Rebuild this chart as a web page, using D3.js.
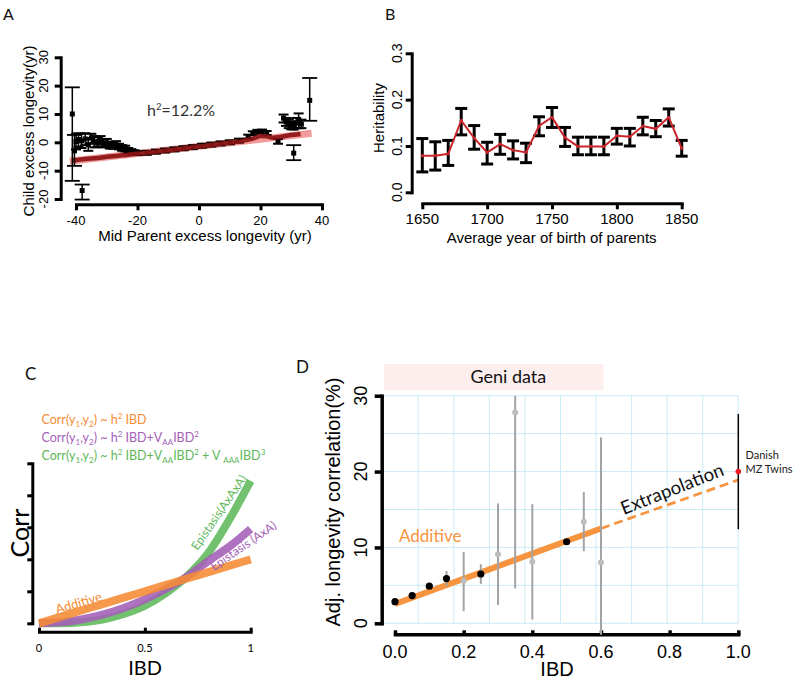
<!DOCTYPE html>
<html><head><meta charset="utf-8">
<script src="https://cdn.jsdelivr.net/npm/d3@7"></script>
<style>body{margin:0;background:#fff} svg{display:block}</style>
</head><body><svg id="c" width="800" height="680"></svg>
<script>
// ---------------- DATA ----------------
// Panel A: mid-parent vs child excess longevity  [x, y, lo, hi]
const aOuterPts = [
  [-41.2, 10, -13.6, 19.4], [-40.5, -3, -8.3, 2.6], [-38.0, -17, -20.2, -14.9],
  [30.8, -3.8, -6.3, -1.0], [36.0, 14.8, 7.6, 22.7]
];
const aClusterPts = [
  [-40.0, 0.3, -2.5, 3.0], [-39.2, 1.0, -1.5, 3.2], [-38.2, 0.5, -2.0, 3.0], [-37.0, 1.2, -1.0, 3.2],
  [-36.0, -0.8, -3.0, 1.5], [-35.0, 1.5, -0.5, 3.0], [-34.0, 0.2, -1.8, 2.2], [-33.0, 0.0, -1.5, 1.8],
  [-32.0, 0.8, -0.8, 2.2], [-31.0, -0.4, -1.8, 1.0], [-30.0, -0.2, -1.5, 1.2], [-29.0, -1.0, -2.2, 0.2],
  [-28.0, -1.2, -2.3, 0.0], [-27.0, -0.8, -2.0, 0.4], [-26.0, -1.5, -2.5, -0.5], [-25.0, -2.0, -3.0, -1.0],
  [-24.0, -2.2, -3.2, -1.2], [-23.0, -2.8, -3.6, -2.0], [-22.0, -3.2, -4.0, -2.4], [-21.0, -3.5, -4.2, -2.8],
  [-20.0, -3.8, -4.5, -3.1], [-17.0, -3.7, -4.4, -3.0], [-14.0, -3.3, -4.0, -2.6], [-11.0, -2.9, -3.6, -2.2],
  [-8.0, -2.5, -3.2, -1.8], [-5.0, -2.1, -2.8, -1.4], [-2.0, -1.7, -2.4, -1.0], [1.0, -1.2, -1.9, -0.5],
  [4.0, -0.8, -1.5, -0.1], [7.0, -0.4, -1.1, 0.3], [10.0, 0.0, -0.7, 0.7], [13.0, 0.6, -0.1, 1.3],
  [16.0, 2.0, 1.3, 2.7], [17.5, 3.2, 2.5, 3.9], [19.0, 3.7, 3.0, 4.4], [20.5, 3.8, 3.1, 4.5],
  [22.0, 3.3, 2.6, 4.0], [25.7, 0.3, -0.5, 1.2],
  [27.5, 8.5, 7.0, 9.8], [28.3, 7.2, 5.8, 8.6], [29.2, 6.5, 5.0, 8.0], [30.0, 6.0, 4.6, 7.4],
  [30.8, 5.6, 4.5, 7.0], [31.6, 6.8, 5.0, 8.6], [32.4, 7.6, 5.0, 10.2], [33.3, 6.4, 5.0, 8.0]
];
const aTrend = [
  [-41, -6.4], [-37, -5.9], [-33, -5.5], [-29, -5.0], [-25, -4.6], [-21, -4.1], [-17, -3.7],
  [-13, -3.2], [-9, -2.7], [-5, -2.2], [-1, -1.6], [3, -1.1], [7, -0.5], [11, 0.0], [15, 0.7],
  [18, 1.5], [20, 2.2], [22, 2.1], [24, 1.6], [26, 1.8], [29, 2.4], [33, 2.9]
];
const aFit = [[-42, -6.7], [36.6, 3.2]];
const aXTicks = [-40, -20, 0, 20, 40];
const aYTicks = [-20, -10, 0, 10, 20, 30];

// Panel B: heritability by parents' birth year
const bYears = [1650,1660,1670,1680,1690,1700,1710,1720,1730,1740,1750,1760,1770,1780,1790,1800,1810,1820,1830,1840,1850];
const bHerit = [0.079,0.079,0.083,0.155,0.117,0.086,0.104,0.091,0.086,0.143,0.162,0.118,0.099,0.099,0.099,0.122,0.120,0.143,0.137,0.162,0.095];
const bLo    = [0.044,0.048,0.058,0.124,0.093,0.061,0.082,0.072,0.064,0.122,0.140,0.099,0.081,0.081,0.081,0.104,0.100,0.124,0.120,0.143,0.078];
const bHi    = [0.116,0.109,0.112,0.181,0.144,0.108,0.125,0.111,0.106,0.163,0.183,0.140,0.119,0.119,0.119,0.138,0.138,0.162,0.155,0.180,0.112];
const bXTicks = [1650, 1700, 1750, 1800, 1850];
const bYTicks = [0.0, 0.1, 0.2, 0.3];

// Panel C: model curves
const cIBD      = [0, 0.1, 0.2, 0.3, 0.4, 0.5, 0.6, 0.7, 0.8, 0.9, 1.0];
const cAdditive = [0, 0.04, 0.08, 0.12, 0.16, 0.20, 0.24, 0.28, 0.32, 0.36, 0.40];
const cAxA      = [0, 0.006, 0.024, 0.054, 0.096, 0.15, 0.216, 0.292, 0.39, 0.48, 0.59];
const cAxAxA    = [0, 0.001, 0.007, 0.024, 0.058, 0.11, 0.19, 0.295, 0.44, 0.65, 0.89];
const cXTicks = [0, 0.5, 1];
const cYTicks = [0, 0.2, 0.4, 0.6, 0.8, 1.0];

// Panel D: Geni data
const dBlackIBD  = [0, 0.05, 0.10, 0.15, 0.25, 0.50];
const dBlackCorr = [2.85, 3.65, 4.9, 5.9, 6.5, 10.75];
const dBlackLo   = [null, null, null, 4.9, 5.2, null];
const dBlackHi   = [null, null, null, 6.9, 7.8, null];
const dGreyIBD   = [0.20, 0.30, 0.35, 0.40, 0.55, 0.60];
const dGreyCorr  = [5.6, 9.1, 27.8, 8.1, 13.4, 8.0];
const dGreyLo    = [1.6, 2.4, 4.6, 0.5, 9.5, -1.5];
const dGreyHi    = [9.4, 15.8, 30.0, 15.7, 17.3, 24.5];
const dFitSolid  = [[0, 2.55], [0.6, 12.5]];
const dFitDash   = [[0.6, 12.5], [1.0, 18.9]];
const dTwin      = {ibd: 1.0, corr: 20, lo: 12.4, hi: 27.6};
const dXTicks = [0, 0.2, 0.4, 0.6, 0.8, 1.0];
const dYTicks = [0, 10, 20, 30];

// ---------------- DRAW ----------------
const svg = d3.select('#c');
const HEL = 'Liberation Sans, Arial, Helvetica, sans-serif';
const MYR = 'Lato, Open Sans, sans-serif';

function styleAxis(g, w) {
  g.select('.domain').attr('stroke', '#000').attr('stroke-width', w).attr('stroke-linecap', 'square');
  g.selectAll('.tick line').attr('stroke', '#000').attr('stroke-width', w);
  g.selectAll('.tick text').remove();
}
function panelLabel(t, x, y, size) {
  svg.append('text').attr('x', x).attr('y', y).attr('font-family', MYR).attr('font-size', size).attr('fill', '#111').text(t);
}

// ===== Panel A =====
const xA = d3.scaleLinear().domain([-40, 40]).range([76, 322]);
const yA = d3.scaleLinear().domain([-20, 30]).range([199, 57.3]);
panelLabel('A', 3, 20, 16);
{
  const gx = svg.append('g').attr('transform', 'translate(0,204.3)')
    .call(d3.axisBottom(xA).tickValues(aXTicks).tickSize(6).tickSizeOuter(0));
  styleAxis(gx, 3);
  const gy = svg.append('g').attr('transform', 'translate(60.7,0)')
    .call(d3.axisLeft(yA).tickValues(aYTicks).tickSize(6).tickSizeOuter(0));
  styleAxis(gy, 3);
  aXTicks.forEach(t => svg.append('text').attr('x', xA(t)).attr('y', 225).attr('text-anchor', 'middle')
    .attr('font-family', HEL).attr('font-size', 13).text(String(t)));
  aYTicks.forEach(t => svg.append('text').attr('transform', `translate(48,${yA(t)}) rotate(-90)`)
    .attr('text-anchor', 'middle').attr('font-family', HEL).attr('font-size', 13).text(String(t)));
  svg.append('text').attr('x', 205).attr('y', 241).attr('text-anchor', 'middle').attr('font-family', HEL)
    .attr('font-size', 15).text('Mid Parent excess longevity (yr)');
  svg.append('text').attr('transform', 'translate(34,131) rotate(-90)').attr('text-anchor', 'middle')
    .attr('font-family', HEL).attr('font-size', 15).text('Child excess longevity(yr)');
  const h = svg.append('text').attr('x', 147).attr('y', 116).attr('font-family', MYR).attr('font-size', 16).attr('fill', '#333');
  h.append('tspan').text('h');
  h.append('tspan').attr('dy', -6).attr('font-size', 9.5).text('2');
  h.append('tspan').attr('dy', 6).text('=12.2%');

  // regression band
  svg.append('path').datum(aFit).attr('d', d3.line().x(d => xA(d[0])).y(d => yA(d[1])))
    .attr('stroke', '#f29a9a').attr('stroke-width', 7).attr('fill', 'none');
  const drawErr = (pts, cap, w) => {
    pts.forEach(p => {
      const x = xA(p[0]);
      svg.append('line').attr('x1', x).attr('x2', x).attr('y1', yA(p[2])).attr('y2', yA(p[3]))
        .attr('stroke', '#000').attr('stroke-width', 1.5);
      [p[2], p[3]].forEach(v => svg.append('line').attr('x1', x - cap).attr('x2', x + cap)
        .attr('y1', yA(v)).attr('y2', yA(v)).attr('stroke', '#000').attr('stroke-width', w));
      svg.append('rect').attr('x', x - 2.5).attr('y', yA(p[1]) - 2.5).attr('width', 5).attr('height', 5).attr('fill', '#000');
    });
  };
  drawErr(aClusterPts, 5, 2);
  svg.append('path').datum(aTrend).attr('d', d3.line().x(d => xA(d[0])).y(d => yA(d[1])).curve(d3.curveMonotoneX))
    .attr('stroke', '#8c1414').attr('stroke-width', 4.5).attr('fill', 'none').attr('opacity', 0.92);
  drawErr(aOuterPts, 7.5, 1.8);
}

// ===== Panel B =====
const xB = d3.scaleLinear().domain([1650, 1850]).range([422.3, 681.7]);
const yB = d3.scaleLinear().domain([0, 0.3]).range([192.3, 53.3]);
panelLabel('B', 385, 20, 16);
{
  const gx = svg.append('g').attr('transform', 'translate(0,203.3)')
    .call(d3.axisBottom(xB).tickValues(bXTicks).tickSize(6).tickSizeOuter(0));
  styleAxis(gx, 3);
  const gy = svg.append('g').attr('transform', 'translate(411.7,0)')
    .call(d3.axisLeft(yB).tickValues(bYTicks).tickSize(6).tickSizeOuter(0));
  styleAxis(gy, 3);
  bXTicks.forEach(t => svg.append('text').attr('x', xB(t)).attr('y', 224).attr('text-anchor', 'middle')
    .attr('font-family', HEL).attr('font-size', 15).text(String(t)));
  bYTicks.forEach(t => svg.append('text').attr('transform', `translate(402,${yB(t)}) rotate(-90)`)
    .attr('text-anchor', 'middle').attr('font-family', HEL).attr('font-size', 14).text(d3.format('.1f')(t)));
  svg.append('text').attr('x', 551.7).attr('y', 243).attr('text-anchor', 'middle').attr('font-family', HEL)
    .attr('font-size', 15).text('Average year of birth of parents');
  svg.append('text').attr('transform', 'translate(383.5,118) rotate(-90)').attr('text-anchor', 'middle')
    .attr('font-family', HEL).attr('font-size', 15).text('Heritability');
  bYears.forEach((yr, i) => {
    const x = xB(yr);
    svg.append('line').attr('x1', x).attr('x2', x).attr('y1', yB(bLo[i])).attr('y2', yB(bHi[i]))
      .attr('stroke', '#000').attr('stroke-width', 3);
    [bLo[i], bHi[i]].forEach(v => svg.append('line').attr('x1', x - 6).attr('x2', x + 6)
      .attr('y1', yB(v)).attr('y2', yB(v)).attr('stroke', '#000').attr('stroke-width', 3));
  });
  svg.append('path').datum(bYears.map((y, i) => [y, bHerit[i]]))
    .attr('d', d3.line().x(d => xB(d[0])).y(d => yB(d[1])))
    .attr('stroke', '#c8262c').attr('stroke-width', 2).attr('fill', 'none');
  bYears.forEach((yr, i) => svg.append('circle').attr('cx', xB(yr)).attr('cy', yB(bHerit[i])).attr('r', 1.6).attr('fill', '#c8262c'));
}

// ===== Panel C =====
const xC = d3.scaleLinear().domain([0, 1]).range([39, 250.7]);
const yC = d3.scaleLinear().domain([0, 1]).range([623.3, 463.3]);
const cOrange = '#f68b33', cPurple = '#a45fb7', cGreen = '#5eb85a';
panelLabel('C', 25, 380, 17);
{
  const gx = svg.append('g').attr('transform', 'translate(0,631.7)')
    .call(d3.axisBottom(xC).tickValues(cXTicks).tickSize(-4).tickSizeOuter(0));
  styleAxis(gx, 3);
  const gy = svg.append('g').attr('transform', 'translate(32.3,0)')
    .call(d3.axisLeft(yC).tickValues(cYTicks).tickSize(5).tickSizeOuter(0));
  styleAxis(gy, 3);
  cXTicks.forEach(t => svg.append('text').attr('x', xC(t)).attr('y', 651.5).attr('text-anchor', 'middle')
    .attr('font-family', MYR).attr('font-size', 11).text(String(t)));
  svg.append('text').attr('x', 145).attr('y', 675).attr('text-anchor', 'middle').attr('font-family', MYR)
    .attr('font-size', 20).text('IBD');
  svg.append('text').attr('transform', 'translate(29,533) rotate(-90)').attr('text-anchor', 'middle')
    .attr('font-family', MYR).attr('font-size', 25).text('Corr');

  const line = d3.line().x(d => xC(d[0])).y(d => yC(d[1])).curve(d3.curveMonotoneX);
  [[cAxAxA, cGreen], [cAxA, cPurple], [cAdditive, cOrange]].forEach(([vals, col]) => {
    svg.append('path').datum(cIBD.map((x, i) => [x, vals[i]])).attr('d', line)
      .attr('stroke', col).attr('stroke-width', 8).attr('fill', 'none').attr('opacity', 0.88);
  });

  // legend
  const rich = (x, y, col, parts) => {
    const t = svg.append('text').attr('x', x).attr('y', y).attr('font-family', MYR).attr('font-size', 12.5).attr('fill', col);
    let shift = 0;
    parts.forEach(([s, m]) => {
      const target = m === 'sub' ? 3 : m === 'sup' ? -5 : 0;
      const ts = t.append('tspan').attr('dy', target - shift).text(s);
      if (m) ts.attr('font-size', 8);
      shift = target;
    });
  };
  rich(41.5, 424, cOrange, [['Corr(y'], ['1', 'sub'], [',y'], ['2', 'sub'], [') ~ h'], ['2', 'sup'], [' IBD']]);
  rich(41.5, 442, cPurple, [['Corr(y'], ['1', 'sub'], [',y'], ['2', 'sub'], [') ~ h'], ['2', 'sup'], [' IBD+V'], ['AA', 'sub'], ['IBD'], ['2', 'sup']]);
  rich(41.5, 460, cGreen, [['Corr(y'], ['1', 'sub'], [',y'], ['2', 'sub'], [') ~ h'], ['2', 'sup'], [' IBD+V'], ['AA', 'sub'], ['IBD'], ['2', 'sup'], [' + V '], ['AAA', 'sub'], ['IBD'], ['3', 'sup']]);

  svg.append('text').attr('transform', 'translate(57,614) rotate(-16.5)').attr('font-family', MYR)
    .attr('font-size', 13).attr('fill', cOrange).text('Additive');
  svg.append('text').attr('transform', 'translate(197.5,551) rotate(-55.5)').attr('font-family', MYR)
    .attr('font-size', 12).attr('fill', cGreen).text('Epistasis(AxAxA)');
  svg.append('text').attr('transform', 'translate(214,571) rotate(-34.5)').attr('font-family', MYR)
    .attr('font-size', 12).attr('fill', cPurple).text('Epistasis (AxA)');
}

// ===== Panel D =====
const xD = d3.scaleLinear().domain([0, 1]).range([395, 738.3]);
const yD = d3.scaleLinear().domain([0, 30]).range([623.3, 395.7]);
panelLabel('D', 296, 373, 17);
{
  // grid (10 x 6 cells spanning the plotting area)
  const gx0 = 382.7, gx1 = xD(1), gy0 = yD(30), gy1 = yD(0);
  const grid = svg.append('g').attr('stroke', '#c9ecf7').attr('stroke-width', 1);
  d3.range(0, 11).forEach(k => {
    const x = gx0 + (gx1 - gx0) * k / 10;
    grid.append('line').attr('x1', x).attr('x2', x).attr('y1', gy0).attr('y2', gy1);
  });
  d3.range(0, 31, 5).forEach(v => grid.append('line').attr('x1', gx0).attr('x2', gx1).attr('y1', yD(v)).attr('y2', yD(v)));

  // Geni data box
  svg.append('rect').attr('x', 384).attr('y', 364).attr('width', 219.3).attr('height', 26).attr('fill', '#fdeeee');
  svg.append('text').attr('x', 508.3).attr('y', 382.5).attr('text-anchor', 'middle').attr('font-family', MYR)
    .attr('font-size', 18).attr('fill', '#111').text('Geni data');

  const gxa = svg.append('g').attr('transform', 'translate(0,634.3)')
    .call(d3.axisBottom(xD).tickValues(dXTicks).tickSize(-4).tickSizeOuter(0));
  styleAxis(gxa, 3.5);
  const gya = svg.append('g').attr('transform', 'translate(381.7,0)')
    .call(d3.axisLeft(yD).tickValues(dYTicks).tickSize(7).tickSizeOuter(0));
  styleAxis(gya, 3.5);
  dXTicks.forEach(t => svg.append('text').attr('x', xD(t)).attr('y', 658).attr('text-anchor', 'middle')
    .attr('font-family', HEL).attr('font-size', 18).text(d3.format('.1f')(t)));
  dYTicks.forEach(t => svg.append('text').attr('transform', `translate(366.5,${yD(t)}) rotate(-90)`)
    .attr('text-anchor', 'middle').attr('font-family', HEL).attr('font-size', 18).text(String(t)));
  svg.append('text').attr('x', 557).attr('y', 676).attr('text-anchor', 'middle').attr('font-family', HEL)
    .attr('font-size', 20).text('IBD');
  svg.append('text').attr('transform', 'translate(340,502) rotate(-90)').attr('text-anchor', 'middle')
    .attr('font-family', HEL).attr('font-size', 20).text('Adj. longevity correlation(%)');

  // fit lines
  const ln = d3.line().x(d => xD(d[0])).y(d => yD(d[1]));
  svg.append('path').datum(dFitSolid).attr('d', ln).attr('stroke', '#f7943f').attr('stroke-width', 6).attr('fill', 'none');
  svg.append('path').datum(dFitDash).attr('d', ln).attr('stroke', '#f7943f').attr('stroke-width', 2.8)
    .attr('stroke-dasharray', '9,5').attr('fill', 'none');

  // grey error bars + points
  dGreyIBD.forEach((x, i) => {
    svg.append('line').attr('x1', xD(x)).attr('x2', xD(x)).attr('y1', yD(dGreyLo[i])).attr('y2', yD(dGreyHi[i]))
      .attr('stroke', '#a3a3a3').attr('stroke-width', 2);
    svg.append('circle').attr('cx', xD(x)).attr('cy', yD(dGreyCorr[i])).attr('r', 3).attr('fill', '#bdbdbd');
  });
  dBlackIBD.forEach((x, i) => {
    if (dBlackLo[i] !== null) svg.append('line').attr('x1', xD(x)).attr('x2', xD(x)).attr('y1', yD(dBlackLo[i]))
      .attr('y2', yD(dBlackHi[i])).attr('stroke', '#a3a3a3').attr('stroke-width', 2);
  });
  dBlackIBD.forEach((x, i) => svg.append('circle').attr('cx', xD(x)).attr('cy', yD(dBlackCorr[i])).attr('r', 3.6).attr('fill', '#000'));

  // twins
  svg.append('line').attr('x1', xD(dTwin.ibd)).attr('x2', xD(dTwin.ibd)).attr('y1', yD(dTwin.lo)).attr('y2', yD(dTwin.hi))
    .attr('stroke', '#000').attr('stroke-width', 1.5);
  svg.append('circle').attr('cx', xD(dTwin.ibd)).attr('cy', yD(dTwin.corr)).attr('r', 2.8).attr('fill', '#ee1c24');
  svg.append('text').attr('x', 745.5).attr('y', 459).attr('font-family', MYR).attr('font-size', 11).attr('fill', '#222').text('Danish');
  svg.append('text').attr('x', 745.5).attr('y', 473).attr('font-family', MYR).attr('font-size', 11).attr('fill', '#222').text('MZ Twins');

  svg.append('text').attr('x', 399).attr('y', 542).attr('font-family', MYR).attr('font-size', 17)
    .attr('fill', '#f7943f').text('Additive');
  svg.append('text').attr('transform', 'translate(672,489) rotate(-21.6)').attr('text-anchor', 'middle')
    .attr('dy', '0.35em').attr('font-family', MYR).attr('font-size', 18.5).attr('fill', '#111').text('Extrapolation');
}
</script></body></html>
